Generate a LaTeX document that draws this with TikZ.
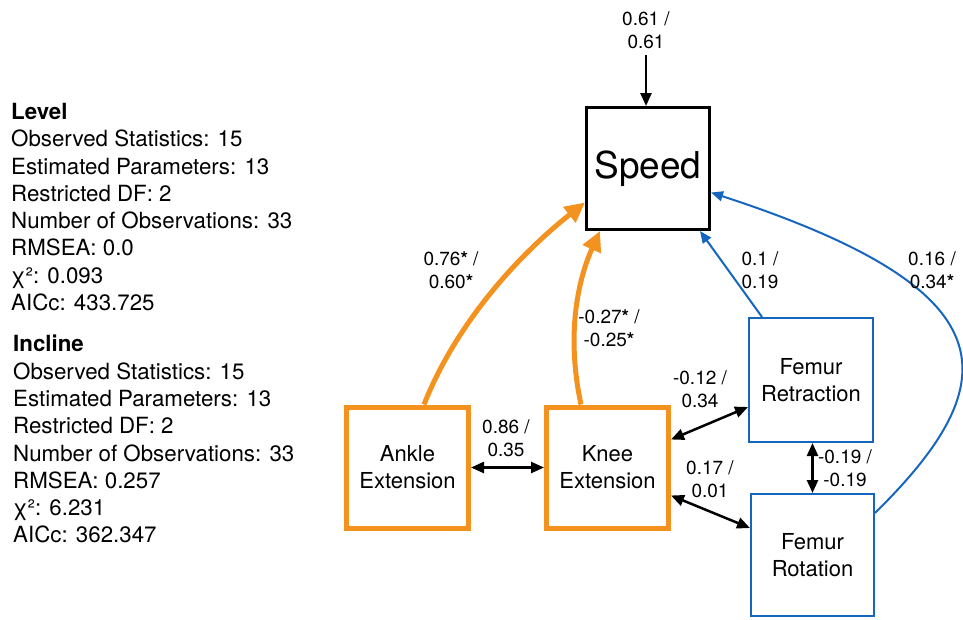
\documentclass[tikz,border=0pt]{standalone}
\usepackage{fontspec}
\setmainfont{TeX Gyre Heros}
\usetikzlibrary{arrows.meta}
\definecolor{orng}{RGB}{243,146,30}
\definecolor{blu}{RGB}{22,102,192}
\begin{document}
\begin{tikzpicture}[x=1pt,y=-1pt,
  box/.style={draw, inner sep=0pt, align=center, font=\fontsize{22}{27}\selectfont},
  obox/.style={box, draw=orng, line width=5pt, minimum width=122pt, minimum height=121pt},
  bbox/.style={box, draw=blu, line width=2pt, minimum width=124pt, minimum height=124pt},
  lbl/.style={inner sep=0pt, align=center, font=\fontsize{19}{23.5}\selectfont},
  stats/.style={inner sep=0pt, align=left, anchor=north west, font=\fontsize{22.3}{27.3}\selectfont},
  oarr/.style={draw=orng, line width=5pt, -{Triangle[length=20pt,width=19pt]}},
  barr/.style={draw=blu, line width=2pt, -{Triangle[length=12pt,width=10pt]}},
  karr/.style={draw=black, line width=2.5pt, {Triangle[length=13pt,width=11pt]}-{Triangle[length=13pt,width=11pt]}},
]
\useasboundingbox (0,0) rectangle (963,619);

% statistics
\node[stats] (level) at (11,103) {\textbf{Level}\\Observed Statistics: 15\\Estimated Parameters: 13\\Restricted DF: 2\\Number of Observations: 33\\RMSEA: 0.0\\χ²: 0.093\\AICc: 433.725};
\node[stats] (incline) at (13,335) {\textbf{Incline}\\Observed Statistics: 15\\Estimated Parameters: 13\\Restricted DF: 2\\Number of Observations: 33\\RMSEA: 0.257\\χ²: 6.231\\AICc: 362.347};

% boxes
\node[box, line width=3pt, minimum width=123pt, minimum height=122pt, font=\fontsize{37}{40}\selectfont] (speed) at (648,168.5) {Speed};
\node[obox] (ankle) at (407.5,467.5) {Ankle\\Extension};
\node[obox] (knee) at (607.5,467.5) {Knee\\Extension};
\node[bbox] (ret) at (811,380) {Femur\\Retraction};
\node[bbox, minimum width=123pt, minimum height=122pt] (rot) at (812.5,555) {Femur\\Rotation};

% top error arrow
\coordinate (topin) at (646,55);
\draw[line width=2.5pt, -{Triangle[length=13pt,width=11pt]}] (topin) -- (topin |- speed.north);
\node[lbl] (l61) at (646,30) {0.61 /\\0.61};

% paths to speed
\draw[oarr] ([xshift=16.5pt]ankle.north) .. controls (457,321) and (521,253) .. ([yshift=-34pt]speed.west);
\draw[oarr] ([xshift=-26.5pt]knee.north) .. controls (565,330) and (580,275) .. ([xshift=-48pt]speed.south);
\draw[barr] ([xshift=-49pt]ret.north) -- ([xshift=52pt]speed.south);
\draw[barr] ([yshift=42pt]rot.east) .. controls (1010,380) and (1010,290) .. ([yshift=-24pt]speed.east);

% covariances
\draw[karr] (ankle.east) -- (knee.west);
\draw[karr] ([yshift=28pt]knee.east) -- ([yshift=-27pt]ret.west);
\draw[karr] ([yshift=-28pt]knee.east) -- ([yshift=27pt]rot.west);
\draw[karr] ([xshift=1.5pt]ret.south) -- ([xshift=1.5pt]ret.south |- rot.north);

% labels
\node[lbl] (l76) at (451,270) {0.76\textbf{*} /\\0.60\textbf{*}};
\node[lbl] (l27) at (609,328) {-0.27\textbf{*} /\\-0.25\textbf{*}};
\node[lbl] (l10) at (760,270) {0.1 /\\0.19};
\node[lbl] (l16) at (932,270) {0.16 /\\0.34\textbf{*}};
\node[lbl] (l86) at (506,438) {0.86 /\\0.35};
\node[lbl] (l12) at (700,389) {-0.12 /\\0.34};
\node[lbl] (l17) at (710,479) {0.17 /\\0.01};
\node[lbl] (l19) at (845,468) {-0.19 /\\-0.19};
\end{tikzpicture}
\end{document}
